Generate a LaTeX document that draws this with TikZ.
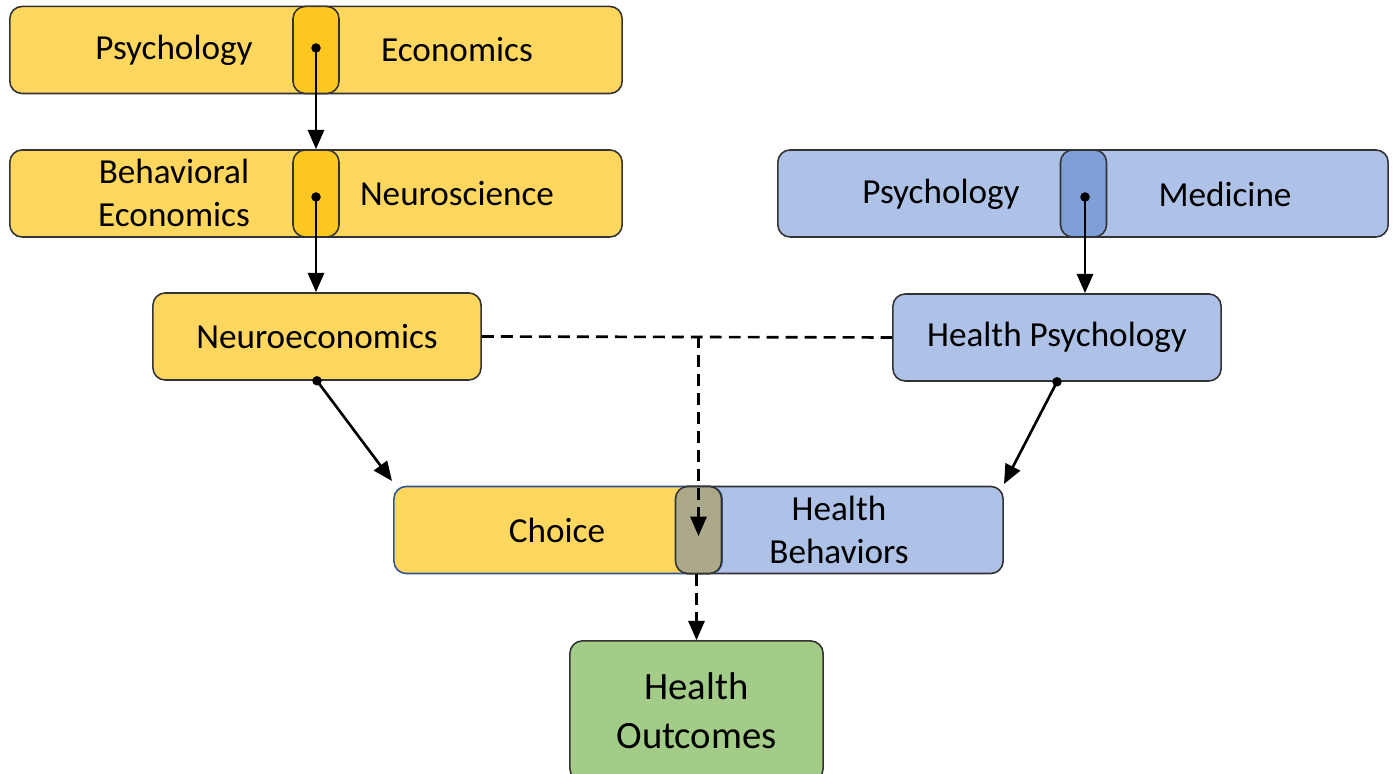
\documentclass[tikz,border=0pt]{standalone}
\usepackage{fontspec}
\setmainfont{Carlito}
\usetikzlibrary{arrows.meta, positioning}

\definecolor{gold}{HTML}{FFD75E}
\definecolor{golddark}{HTML}{FFC820}
\definecolor{sky}{HTML}{ADC2E6}
\definecolor{skydark}{HTML}{7F9FD8}
\definecolor{leaf}{HTML}{A3CC88}
\definecolor{mud}{HTML}{ACA98B}
\definecolor{edge}{HTML}{333333}
\definecolor{navy}{HTML}{2F5597}

\tikzset{
  box/.style={draw=edge, line width=0.45pt, rounded corners=3.5pt, inner sep=0pt},
  wide/.style={box, minimum width=6.12cm, minimum height=0.87cm},
  half/.style={box, minimum width=3.28cm, minimum height=0.87cm, font=\fontsize{10}{12.2}\selectfont},
  overlap/.style={box, minimum width=0.46cm, minimum height=0.87cm},
  lbl/.style={inner sep=0pt, align=center, font=\fontsize{10}{12.2}\selectfont},
  dot/.style={circle, fill=black, inner sep=0pt, minimum size=0.095cm},
  flow/.style={line width=0.75pt, -{Triangle[length=5.5pt,width=4.6pt]}},
  link/.style={line width=0.75pt, dash pattern=on 3.4pt off 2pt}
}

\begin{document}
\begin{tikzpicture}[x=0.01cm, y=-0.01cm]
  \fill[white] (0,0) rectangle (1394,774);
  \useasboundingbox (0,0) rectangle (1394,774);

  % economics side
  \node (pe) [wide, fill=gold] at (316,50) {};
  \node (pe-ov) [overlap, fill=golddark] at (316,50) {};
  \node (psy1) [lbl] at (174,50) {Psychology};
  \node (eco) [lbl] at (457,50) {Economics};

  \node (bn) [wide, fill=gold] at (316,193.5) {};
  \node (bn-ov) [overlap, fill=golddark] at (316,193.5) {};
  \node (beco) [lbl] at (174,193) {Behavioral\\Economics};
  \node (neuro) [lbl] at (457,194) {Neuroscience};

  \node (ne) [half, fill=gold] at (317,336.5) {Neuroeconomics};

  % health side
  \node (pm) [wide, fill=sky, minimum width=6.1cm] at (1083,193.5) {};
  \node (pm-ov) [overlap, fill=skydark] at (1083.5,193.5) {};
  \node (psy2) [lbl] at (941,194) {Psychology};
  \node (med) [lbl] at (1225,194) {Medicine};

  \node (hp) [half, fill=sky] at (1057,337.5) {Health Psychology};

  % joint box
  \node (hb) [half, fill=sky] at (839,530) {};
  \node (ch) [half, fill=gold, draw=navy] at (558,530) {};
  \node (ch-ov) [overlap, fill=mud] at (698.5,530) {};
  \node (choice) [lbl] at (557,530) {Choice};
  \node (hbeh) [lbl] at (839,530) {Health\\Behaviors};

  \node (ho) [box, fill=leaf, minimum width=2.53cm, minimum height=1.4cm,
              align=center, font=\fontsize{11}{13.9}\selectfont] at (696.5,711) {Health\\Outcomes};

  \node (d1) [dot] at (316,48) {};
  \node (d2) [dot] at (316,197) {};
  \node (d3) [dot] at (1085,197) {};
  \node (d4) [dot] at (ne.south) {};
  \node (d5) [dot] at (hp.south) {};
  \coordinate (ch-in) at (392,481);
  \coordinate (hb-in) at (1004,484);
  \coordinate (ch-tip) at (698.5,536);

  \draw[flow] (d1.center) -- (d1.center |- bn.north);
  \draw[flow] (d2.center) -- (d2.center |- ne.north);
  \draw[flow] (d3.center) -- (d3.center |- hp.north);
  \draw[flow] (d4.center) -- (ch-in);
  \draw[flow] (d5.center) -- (hb-in);

  \draw[link] (ne.east) -- (hp.west);
  \draw[link, -{Triangle[length=5.5pt,width=4.6pt]}] (ch-tip |- ne.east) -- (ch-tip);
  \draw[link, -{Triangle[length=5.5pt,width=4.6pt]}] (ho.north |- ch-ov.south) -- (ho.north);
\end{tikzpicture}
\end{document}
